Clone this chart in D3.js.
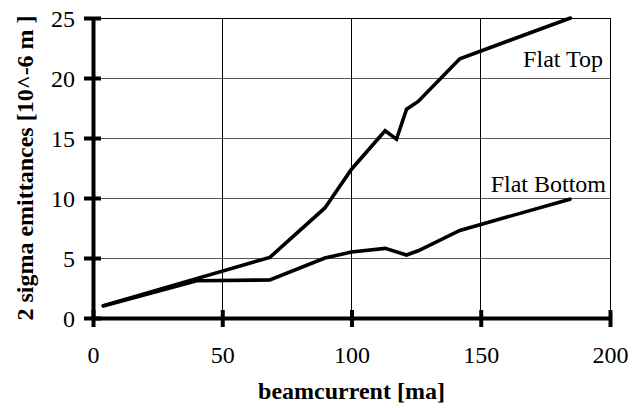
<!DOCTYPE html>
<html>
<head>
<meta charset="utf-8">
<script src="https://cdn.jsdelivr.net/npm/d3@7"></script>
<style>
html,body{margin:0;padding:0;background:#fff;}
svg text{font-family:"Liberation Serif","Times New Roman",Times,serif !important;}
</style>
</head>
<body>
<div id="chart"></div>
<script>
// Data
const flatTopX = [4, 68.4, 89.7, 100, 113, 117.4, 121.3, 125.8, 141.9, 184.7];
const flatTopY = [1.03, 5.05, 9.17, 12.4, 15.6, 14.9, 17.4, 18.05, 21.6, 25.0];
const flatBottomX = [4, 40.1, 68.4, 89.7, 100, 113, 121.3, 125.8, 141.9, 184.5];
const flatBottomY = [1.0, 3.1, 3.17, 5.0, 5.5, 5.8, 5.25, 5.6, 7.3, 9.9];
const xTicks = [0, 50, 100, 150, 200];
const yTicks = [0, 5, 10, 15, 20, 25];
const seriesLabels = ["Flat Top", "Flat Bottom"];
const xTitle = "beamcurrent [ma]";
const yTitle = "2 sigma emittances [10^-6 m ]";

const W = 636, H = 408;
const m = {left: 93, right: 26, top: 18, bottom: 90};
const x = d3.scaleLinear().domain([0, 200]).range([m.left, W - m.right]);
const y = d3.scaleLinear().domain([0, 25]).range([H - m.bottom, m.top]);

const svg = d3.select("#chart").append("svg").attr("width", W).attr("height", H);

// gridlines
svg.append("g").selectAll("line").data(yTicks.filter(d => d > 0)).join("line")
  .attr("x1", x(0)).attr("x2", x(200)).attr("y1", d => y(d)).attr("y2", d => y(d))
  .attr("stroke", d => d === 25 ? "#000" : "#555").attr("stroke-width", 1).attr("shape-rendering", "crispEdges");
svg.append("g").selectAll("line").data(xTicks.filter(d => d > 0)).join("line")
  .attr("x1", d => x(d)).attr("x2", d => x(d)).attr("y1", y(0)).attr("y2", y(25))
  .attr("stroke", "#000").attr("stroke-width", 1).attr("shape-rendering", "crispEdges");

// lines
const line = d3.line().x(d => x(d[0])).y(d => y(d[1]));
const series = [
  d3.zip(flatTopX, flatTopY),
  d3.zip(flatBottomX, flatBottomY)
];
svg.append("g").selectAll("path").data(series).join("path")
  .attr("d", line).attr("fill", "none").attr("stroke", "#000")
  .attr("stroke-width", 3.6).attr("stroke-linejoin", "miter").attr("stroke-linecap", "round");

// axes
const xAxis = d3.axisBottom(x).tickValues(xTicks).tickSizeInner(8).tickSizeOuter(0).tickPadding(20);
const gx = svg.append("g").attr("transform", `translate(0,${y(0)})`).call(xAxis);
gx.attr("font-family", null);
gx.select(".domain").attr("stroke-width", 4);
gx.selectAll(".tick line").attr("y1", -8).attr("y2", 9).attr("stroke-width", 4);
gx.selectAll(".tick text").attr("font-size", 24).attr("fill", "#000");

const yAxis = d3.axisLeft(y).tickValues(yTicks).tickSizeInner(8).tickSizeOuter(0).tickPadding(10);
const gy = svg.append("g").attr("transform", `translate(${x(0)},0)`).call(yAxis);
gy.attr("font-family", null);
gy.select(".domain").attr("stroke-width", 4);
gy.selectAll(".tick line").attr("x1", -9).attr("x2", 8).attr("stroke-width", 4);
gy.selectAll(".tick text").attr("font-size", 24).attr("fill", "#000").attr("dy", "0.36em");

// series labels
svg.append("text").attr("x", 603).attr("y", 67).attr("text-anchor", "end")
  .attr("font-size", 24).text(seriesLabels[0]);
svg.append("text").attr("x", 606).attr("y", 192).attr("text-anchor", "end")
  .attr("font-size", 24).text(seriesLabels[1]);

// titles
svg.append("text").attr("x", (x(0) + x(200)) / 2).attr("y", 399).attr("text-anchor", "middle")
  .attr("font-size", 24).attr("font-weight", "bold").text(xTitle);
svg.append("text").attr("transform", `translate(33,${(y(0) + y(25)) / 2}) rotate(-90)`)
  .attr("text-anchor", "middle").attr("font-size", 24).attr("font-weight", "bold").text(yTitle);
</script>
</body>
</html>
